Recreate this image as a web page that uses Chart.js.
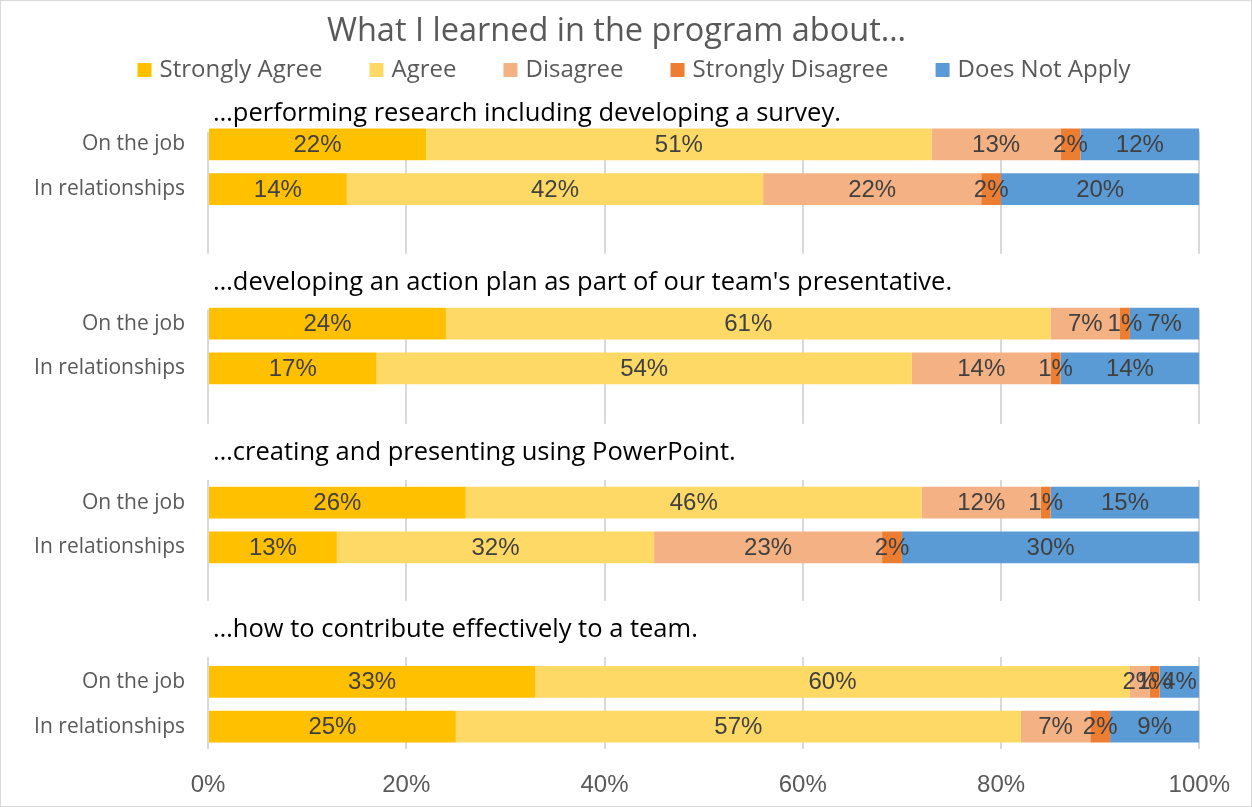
<!DOCTYPE html>
<html>
<head>
<meta charset="utf-8">
<script src="https://cdn.jsdelivr.net/npm/chart.js@4"></script>
<style>
  body { margin: 0; background: #fff; }
</style>
</head>
<body>
<canvas id="learnChart" width="1252" height="807"></canvas>
<script>
// data
const groupTitles = [
    '\u2026performing research including developing a survey.',
    '\u2026developing an action plan as part of our team\'s presentative.',
    '\u2026creating and presenting using PowerPoint.',
    '\u2026how to contribute effectively to a team.'
];
const rowLabels = ['On the job', 'In relationships'];

const seriesNames = ['Strongly Agree', 'Agree', 'Disagree', 'Strongly Disagree', 'Does Not Apply'];
const seriesColors = ['#FFC000', '#FFD966', '#F4B183', '#ED7D31', '#5B9BD5'];

// two values per group: on the job, in relationships
const stronglyAgree    = [22, 14, 24, 17, 26, 13, 33, 25];
const agree            = [51, 42, 61, 54, 46, 32, 60, 57];
const disagree         = [13, 22,  7, 14, 12, 23,  2,  7];
const stronglyDisagree = [ 2,  2,  1,  1,  1,  2,  1,  2];
const doesNotApply     = [12, 20,  7, 14, 15, 30,  4,  9];

const xTicks = [0, 20, 40, 60, 80, 100];

const allSeries = [stronglyAgree, agree, disagree, stronglyDisagree, doesNotApply];

// rows: bar, bar, then (blank, title) before every next group
const labels = [];
const titleRows = [];
const rowOf = [];   // data index -> row index
groupTitles.forEach((t, g) => {
    if (g > 0) {
        labels.push('');
        titleRows.push(labels.length);
        labels.push('');
    } else {
        titleRows.push(-1);   // sits above the plot area
    }
    rowLabels.forEach((lab) => {
        rowOf.push(labels.length);
        labels.push(lab);
    });
});

const datasets = allSeries.map((vals, i) => {
    const data = labels.map(() => null);
    vals.forEach((v, k) => { data[rowOf[k]] = v; });
    return {
        label: seriesNames[i],
        data: data,
        backgroundColor: seriesColors[i],
        borderWidth: 0,
        categoryPercentage: 1,
        barPercentage: 0.71
    };
});

// title offsets from the title row center (pixels)
const titleShift = [14, 4, -5, -7];

const groupTitlePlugin = {
    id: 'groupTitles',
    afterLayout(chart) {
        // the original title sits a bit right of the canvas center
        chart.titleBlock.left += 33;
    },
    beforeDatasetsDraw(chart) {
        const ctx = chart.ctx;
        const y = chart.scales.y;
        const area = chart.chartArea;
        const step = y.getPixelForValue(1) - y.getPixelForValue(0);
        ctx.save();
        ctx.fillStyle = '#ffffff';
        ctx.fillRect(area.left - 4, area.top, area.width + 8, 10);
        groupTitles.forEach((t, g) => {
            const rowY = titleRows[g] < 0 ? y.getPixelForValue(0) - step : y.getPixelForValue(titleRows[g]);
            const ty = rowY + titleShift[g];
            if (g > 0) {
                ctx.fillStyle = '#ffffff';
                ctx.fillRect(area.left - 4, ty - 29, area.width + 8, 56);
            }
            ctx.fillStyle = '#000000';
            ctx.font = '25.5px "Open Sans"';
            ctx.textAlign = 'left';
            ctx.textBaseline = 'middle';
            ctx.fillText(t, area.left + 5, ty);
        });
        ctx.restore();
    },
    afterDatasetsDraw(chart) {
        const ctx = chart.ctx;
        ctx.save();
        ctx.font = '24px "Liberation Sans"';
        ctx.fillStyle = '#404040';
        ctx.textAlign = 'center';
        ctx.textBaseline = 'middle';
        chart.data.datasets.forEach((ds, i) => {
            const meta = chart.getDatasetMeta(i);
            meta.data.forEach((bar, k) => {
                const v = ds.data[k];
                if (v == null) return;
                ctx.fillText(v + '%', (bar.x + bar.base) / 2, bar.y + 1);
            });
        });
        ctx.restore();
    },
    afterDraw(chart) {
        const ctx = chart.ctx;
        ctx.save();
        // legend row
        ctx.font = '24px "Open Sans"';
        ctx.textBaseline = 'middle';
        ctx.textAlign = 'left';
        const box = 14, boxGap = 8, itemGap = 47, legendY = 70;
        const widths = chart.data.datasets.map(ds => ctx.measureText(ds.label).width);
        const total = widths.reduce((a, w) => a + box + boxGap + w, 0) + itemGap * (widths.length - 1);
        let x = 634 - total / 2;
        chart.data.datasets.forEach((ds, i) => {
            ctx.fillStyle = ds.backgroundColor;
            ctx.fillRect(x, legendY - box / 2, box, box);
            ctx.fillStyle = '#595959';
            ctx.fillText(ds.label, x + box + boxGap, legendY);
            x += box + boxGap + widths[i] + itemGap;
        });
        // outer border
        ctx.strokeStyle = '#d9d9d9';
        ctx.lineWidth = 1;
        ctx.strokeRect(0.5, 0.5, chart.width - 1, chart.height - 1);
        ctx.restore();
    }
};

new Chart(document.getElementById('learnChart'), {
    type: 'bar',
    data: { labels: labels, datasets: datasets },
    options: {
        indexAxis: 'y',
        responsive: false,
        animation: false,
        layout: { padding: { top: 0, right: 52, bottom: 0, left: 0 } },
        plugins: {
            title: {
                display: true,
                text: 'What I learned in the program about\u2026',
                color: '#595959',
                font: { family: '"Open Sans"', size: 32.5, weight: 'normal' },
                padding: { top: 12, bottom: 71 }
            },
            legend: { display: false },
            tooltip: { enabled: false }
        },
        scales: {
            x: {
                stacked: true,
                min: 0,
                max: 100,
                afterBuildTicks(scale) {
                    scale.ticks = xTicks.map(v => ({ value: v }));
                },
                afterFit(scale) { scale.height = 58; },
                ticks: {
                    color: '#595959',
                    font: { family: '"Liberation Sans"', size: 24 },
                    padding: 22,
                    callback: v => v + '%'
                },
                grid: { color: '#d9d9d9', lineWidth: 2, drawTicks: false },
                border: { display: false }
            },
            y: {
                stacked: true,
                afterFit(scale) { scale.width = 208; },
                ticks: {
                    color: '#595959',
                    font: { family: '"Open Sans"', size: 21 },
                    padding: 23
                },
                grid: { display: false, drawTicks: false },
                border: { display: false }
            }
        }
    },
    plugins: [groupTitlePlugin]
});
</script>
</body>
</html>
